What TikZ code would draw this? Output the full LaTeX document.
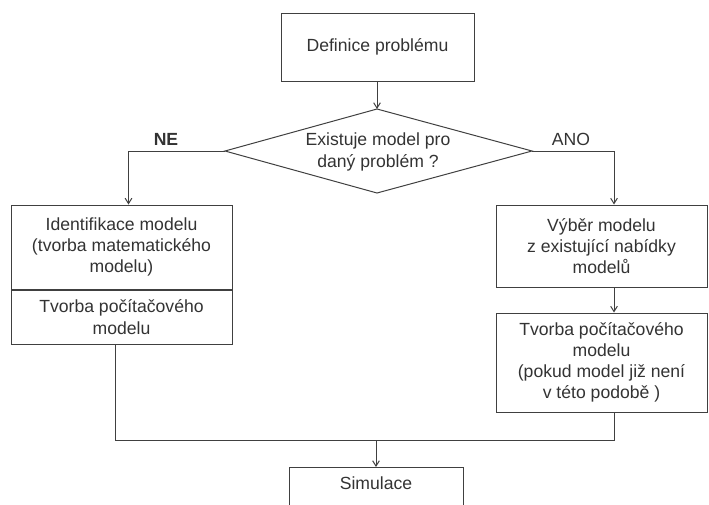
\documentclass[tikz,border=0pt]{standalone}
\usepackage{fontspec}
\setmainfont{Liberation Sans}
\usetikzlibrary{arrows.meta}
\definecolor{ink}{HTML}{333333}
\definecolor{edge}{HTML}{404040}
\begin{document}
\begin{tikzpicture}[x=0.75pt,y=-0.75pt,
  every node/.style={text=ink,font=\fontsize{13.2}{15.9}\selectfont},
  box/.style={draw=edge,line width=0.75pt,rectangle,inner sep=0pt,align=center},
  link/.style={draw=edge,line width=0.75pt},
  arr/.style={link,-{Straight Barb[length=4pt,width=5pt]}}]
\useasboundingbox (0,0) rectangle (709,504);
\clip (0,0) rectangle (709,504);

% start box
\node[box,minimum width=193*0.75pt,minimum height=68*0.75pt] (def) at (377.5,47) {Definice problému};

% decision
\coordinate (dt) at (377,109);
\coordinate (dl) at (225,151);
\coordinate (db) at (377,193);
\coordinate (dr) at (532,151);
\draw[link] (dt) -- (dl) -- (db) -- (dr) -- cycle;
\node[align=center] (dq) at (378,152) {Existuje model pro\\daný problém ?};

% left branch: one box split in two parts
\node[box,minimum width=221*0.75pt,minimum height=84*0.75pt] (idA) at (121.5,247) {Identifikace modelu\\(tvorba matematického\\modelu)};
\node[box,minimum width=221*0.75pt,minimum height=54*0.75pt,anchor=north] (idB) at (idA.south) {Tvorba počítačového\\modelu};

% right branch
\node[box,minimum width=211*0.75pt,minimum height=82*0.75pt] (vyb) at (601.5,246) {Výběr modelu\\z existující nabídky\\modelů};
\node[box,minimum width=211*0.75pt,minimum height=99*0.75pt] (tvb) at (601.5,362.5) {Tvorba počítačového\\modelu\\(pokud model již není\\v této podobě )};

% final box, running past the lower edge
\node[box,minimum width=174*0.75pt,minimum height=70*0.75pt,anchor=north] (sim) at (376,467) {};
\node[anchor=base] (simt) at (376,489) {Simulace};

% branch labels
\node[font=\fontsize{13.2}{15.9}\selectfont\bfseries] (ne) at (166,139) {NE};
\node (ano) at (571,139) {ANO};

% connectors
\coordinate (jl) at (115,440);
\coordinate (jr) at (614,440);
\coordinate (jm) at (376,440);
\draw[arr] (def.south -| dt) -- (dt);
\draw[arr] (dl) -| (idA.north -| 128.5,0);
\draw[arr] (dr) -| (vyb.north -| 614,0);
\draw[arr] (vyb.south -| 614,0) -- (tvb.north -| 614,0);
\draw[link] (idB.south -| jl) -- (jl) -- (jr) -- (tvb.south -| jr);
\draw[arr] (jm) -- (sim.north);
\end{tikzpicture}
\end{document}
